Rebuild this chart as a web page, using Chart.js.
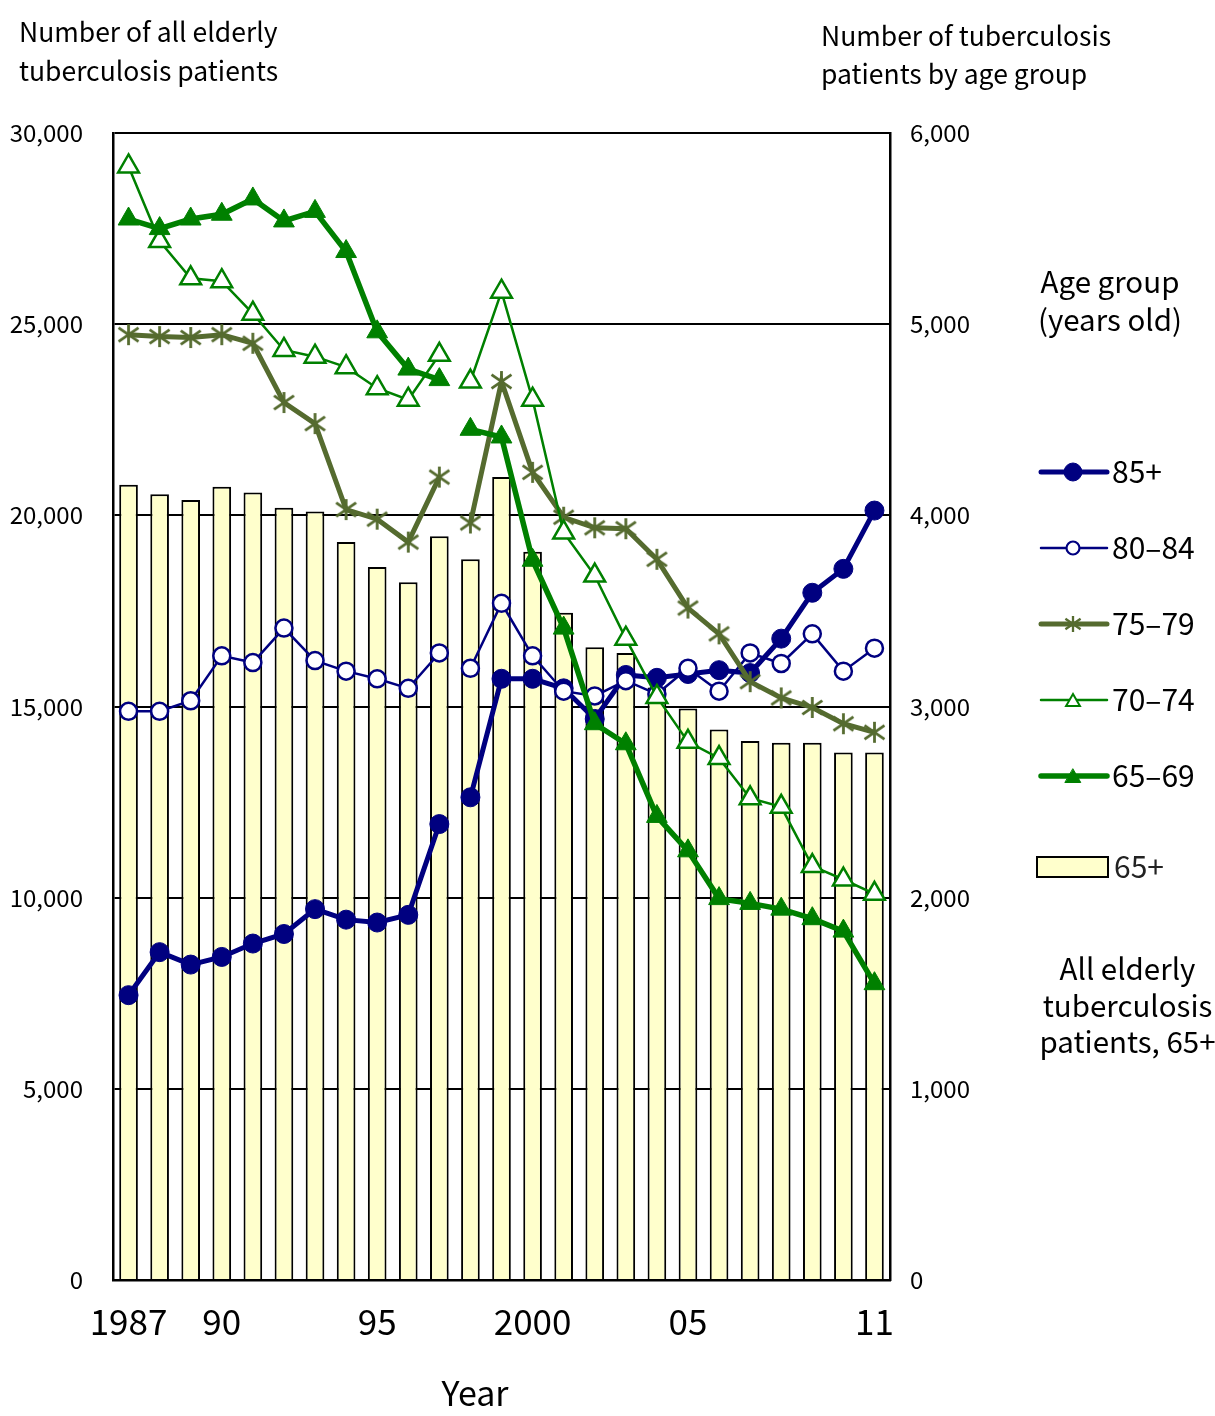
<!DOCTYPE html>
<html><head><meta charset="utf-8">
<script src="https://cdn.jsdelivr.net/npm/chart.js@4.4.1/dist/chart.umd.min.js"></script>
<style>
html,body{margin:0;padding:0;background:#fff;}
#wrap{position:relative;width:1215px;height:1416px;overflow:hidden;}
#c{position:absolute;left:0;top:0;}
.t{position:absolute;font-family:"Noto Sans CJK JP","DejaVu Sans",sans-serif;color:#000;white-space:nowrap;}
</style></head><body>
<div id="wrap">
<canvas id="c" width="1215" height="1416" style="width:1215px;height:1416px"></canvas>
<div class="t" style="left:19px;top:11px;font-size:26.5px;line-height:39px">Number of all elderly<br>tuberculosis patients</div>
<div class="t" style="left:821px;top:16px;font-size:26.5px;line-height:38px">Number of tuberculosis<br>patients by age group</div>
<div class="t" style="left:1010px;top:261px;width:200px;text-align:center;font-size:29.5px;line-height:38px">Age group<br>(years old)</div>
<div class="t" style="left:1025px;top:949px;width:205px;text-align:center;font-size:29.5px;line-height:36.5px">All elderly<br>tuberculosis<br>patients, 65+</div>
<div class="t" style="left:375px;top:1371px;width:200px;text-align:center;font-size:34px;line-height:42px">Year</div>
</div>
<script>
// ---- data ----
const years = ['1987','1988','1989','1990','1991','1992','1993','1994','1995','1996','1997','1998','1999','2000','2001','2002','2003','2004','2005','2006','2007','2008','2009','2010','2011'];
const xTickLabels = ['1987','','','90','','','','','95','','','','','2000','','','','','05','','','','','','11'];
const seriesBreakAfter = '1997';
const allElderly65plus = [20800,20550,20400,20750,20600,20200,20100,19300,18650,18250,19450,18850,21000,19050,17450,16550,16400,15500,14950,14400,14100,14050,14050,13800,13800];
const age85plus = [1490,1715,1650,1690,1760,1810,1940,1885,1870,1910,2385,2525,3145,3145,3095,2935,3165,3150,3170,3190,3175,3355,3595,3720,4025];
const age80to84 = [2975,2975,3030,3265,3230,3410,3240,3185,3145,3095,3280,3200,3540,3265,3080,3055,3135,3065,3200,3080,3280,3225,3380,3185,3305];
const age75to79 = [4945,4935,4930,4945,4900,4590,4480,4030,3980,3860,4200,3960,4700,4225,3990,3935,3930,3770,3515,3380,3130,3045,2995,2910,2865];
const age70to74 = [5825,5435,5240,5225,5055,4865,4830,4775,4665,4605,4840,4700,5170,4605,3910,3685,3355,3050,2815,2730,2520,2475,2165,2095,2020];
const age65to69 = [5550,5500,5550,5575,5655,5540,5590,5380,4960,4765,4710,4450,4410,3765,3410,2910,2805,2425,2245,1995,1970,1940,1890,1825,1550];
const leftTicks = [0,5000,10000,15000,20000,25000,30000];
const rightTicks = [0,1000,2000,3000,4000,5000,6000];
const seriesLabels = ['85+','80–84','75–79','70–74','65–69','65+'];

const FONT = '"Noto Sans CJK JP","DejaVu Sans",sans-serif';
const NAVY = '#000080', GREEN = '#008000', OLIVE = '#556B2F';

function makeStar(size, color, lw){
  const c = document.createElement('canvas');
  c.width = size; c.height = size;
  const g = c.getContext('2d');
  g.strokeStyle = color; g.lineWidth = lw; g.lineCap = 'butt';
  const m = size/2, a = size/2 - 1;
  g.beginPath();
  g.moveTo(m, 1); g.lineTo(m, size-1);
  g.moveTo(m - a*0.95, m - a*0.65); g.lineTo(m + a*0.95, m + a*0.65);
  g.moveTo(m - a*0.95, m + a*0.65); g.lineTo(m + a*0.95, m - a*0.65);
  g.stroke();
  return c;
}
const starBig = makeStar(23, OLIVE, 2.8);
const starSmall = makeStar(18, OLIVE, 2.3);

const breakIdx = years.indexOf(seriesBreakAfter);
const gapSeg = { borderColor: ctx => ctx.p0DataIndex === breakIdx ? 'rgba(0,0,0,0)' : undefined };

const lineSets = [
  {label: seriesLabels[0], data: age85plus, borderColor: NAVY, borderWidth: 5, pointStyle:'circle', pointRadius: 9.5, pointBackgroundColor: NAVY, pointBorderColor: NAVY, pointBorderWidth: 1, order: 5, lg:{lw:5, style:'circle', r:9, fill:NAVY, bw:1}},
  {label: seriesLabels[1], data: age80to84, borderColor: NAVY, borderWidth: 2.5, pointStyle:'circle', pointRadius: 8.5, pointBackgroundColor: '#fff', pointBorderColor: NAVY, pointBorderWidth: 2.5, order: 4, lg:{lw:2.5, style:'circle', r:6.5, fill:'#fff', bw:2.2}},
  {label: seriesLabels[2], data: age75to79, borderColor: OLIVE, borderWidth: 5, pointStyle: starBig, pointRadius: 11, pointBackgroundColor: OLIVE, pointBorderColor: OLIVE, pointBorderWidth: 0, order: 3, lg:{lw:5, style: starSmall, r:8, fill:OLIVE, bw:0}},
  {label: seriesLabels[3], data: age70to74, borderColor: GREEN, borderWidth: 2.5, pointStyle:'triangle', pointRadius: 12, pointBackgroundColor: '#fff', pointBorderColor: GREEN, pointBorderWidth: 2.5, order: 2, lg:{lw:2.5, style:'triangle', r:8, fill:'#fff', bw:2}},
  {label: seriesLabels[4], data: age65to69, borderColor: GREEN, borderWidth: 5.5, pointStyle:'triangle', pointRadius: 12, pointBackgroundColor: GREEN, pointBorderColor: GREEN, pointBorderWidth: 1, order: 1, lg:{lw:5.5, style:'triangle', r:9, fill:GREEN, bw:1}}
].map(d => Object.assign({type:'line', yAxisID:'y2', tension:0, fill:false, segment: gapSeg, pointHoverRadius: d.pointRadius}, d));

const legendPlugin = {
  id: 'customLegend',
  afterDraw(chart){
    const ctx = chart.ctx;
    const ys = [472, 548, 624, 700, 776];
    ctx.save();
    lineSets.forEach((d, i) => {
      const y = ys[i];
      ctx.strokeStyle = d.borderColor; ctx.lineWidth = d.lg.lw; ctx.lineCap = 'round';
      ctx.beginPath(); ctx.moveTo(1041, y); ctx.lineTo(1107, y); ctx.stroke();
      ctx.fillStyle = d.lg.fill; ctx.strokeStyle = d.borderColor; ctx.lineWidth = d.lg.bw;
      Chart.helpers.drawPoint(ctx, {pointStyle: d.lg.style, radius: d.lg.r, borderWidth: d.lg.bw, rotation: 0}, 1073, d.lg.style === 'triangle' ? y + 2 : y);
      ctx.fillStyle = '#000'; ctx.font = '30px ' + FONT; ctx.textBaseline = 'middle'; ctx.textAlign = 'left';
      ctx.fillText(d.label, 1112, y);
    });
    // bar legend
    ctx.fillStyle = '#FFFFCC'; ctx.strokeStyle = '#000'; ctx.lineWidth = 2;
    ctx.fillRect(1037, 857, 71, 20); ctx.strokeRect(1037, 857, 71, 20);
    ctx.fillStyle = '#222'; ctx.font = '30px ' + FONT; ctx.textBaseline = 'middle';
    ctx.fillText(seriesLabels[5], 1114, 867);
    ctx.restore();
  }
};

new Chart(document.getElementById('c'), {
  data: {
    labels: years,
    datasets: [
      ...lineSets,
      {type:'bar', label: seriesLabels[5], data: allElderly65plus, yAxisID:'y', backgroundColor:'#FFFFCC', borderColor:'#000', borderWidth:2, barPercentage:0.6, categoryPercentage:1, order: 10}
    ]
  },
  options: {
    responsive: false,
    animation: false,
    devicePixelRatio: 1,
    layout: { padding: { top: 133, left: 0, right: 0, bottom: 0 } },
    plugins: { legend: { display: false }, tooltip: { enabled: false } },
    scales: {
      x: {
        type: 'category', offset: true,
        grid: { display: false },
        border: { display: true, color: '#000', width: 2.5 },
        ticks: { autoSkip: false, maxRotation: 0, minRotation: 0, color: '#000', padding: 13, font: { size: 35, family: FONT }, callback: (v, i) => xTickLabels[i] },
        afterFit: s => { s.height = 136; }
      },
      y: {
        position: 'left', min: 0, max: 30000,
        afterBuildTicks: s => { s.ticks = leftTicks.map(v => ({value: v})); },
        ticks: { color: '#000', padding: 30, font: { size: 24, family: FONT } },
        grid: { color: '#000', lineWidth: 2, drawTicks: false },
        border: { display: true, color: '#000', width: 2.5 },
        afterFit: s => { s.width = 113; }
      },
      y2: {
        position: 'right', min: 0, max: 6000,
        afterBuildTicks: s => { s.ticks = rightTicks.map(v => ({value: v})); },
        ticks: { color: '#000', padding: 20, font: { size: 24, family: FONT } },
        grid: { display: false, drawTicks: false },
        border: { display: true, color: '#000', width: 2.5 },
        afterFit: s => { s.width = 325; }
      }
    }
  },
  plugins: [legendPlugin]
});
</script>
</body></html>
